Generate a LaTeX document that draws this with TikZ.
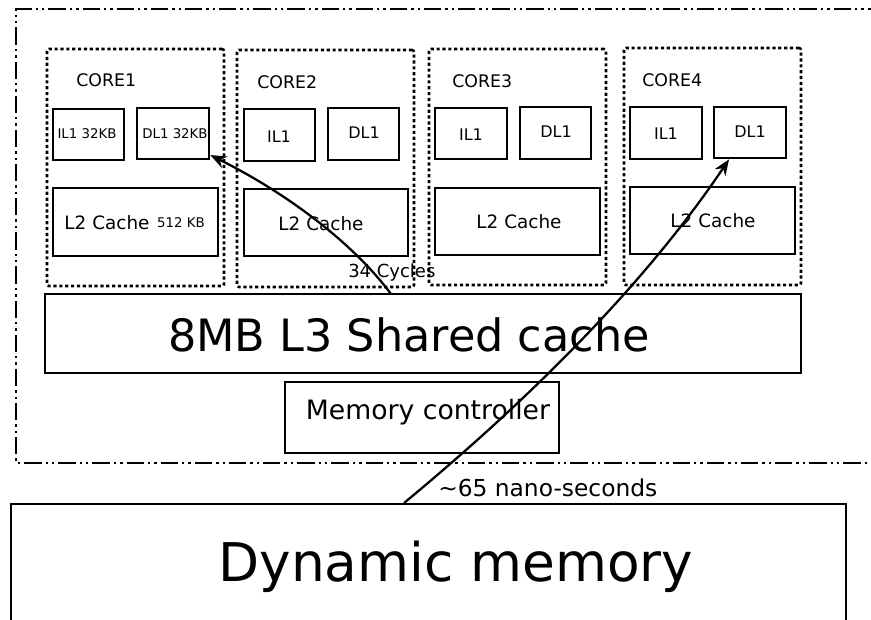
\documentclass[tikz,border=0pt]{standalone}
\usepackage{fontspec}
\setmainfont{DejaVu Sans}
\usetikzlibrary{fit,arrows.meta}
\begin{document}
\begin{tikzpicture}[x=0.75pt,y=-0.75pt,
  box/.style={draw,line width=2pt,inner sep=0pt},
  corebox/.style={draw,line width=1.9pt,dash pattern=on 2.4pt off 2pt,rounded corners=1.5pt,inner sep=0pt},
  chipline/.style={line width=1.7pt,dash pattern=on 13pt off 3pt on 1.8pt off 3pt on 1.8pt off 3pt},
  txt/.style={inner sep=0pt},
  fcore/.style={font=\fontsize{13}{15}\selectfont},
  fsmall/.style={font=\fontsize{10}{12}\selectfont},
  fl1/.style={font=\fontsize{12}{14}\selectfont},
  fl2/.style={font=\fontsize{13.8}{16}\selectfont},
  link/.style={line width=1.7pt,-{Stealth[length=12pt,width=9.5pt]}}]
\useasboundingbox (0,0) rectangle (871,619);

% chip outline, open on the right
\draw[chipline] (885,9) -- (16,9) -- (16,463) -- (885,463);

% core frames
\node[corebox,fit={(47,49) (224,286)}] (core1) {};
\node[corebox,fit={(237,50) (414,287)}] (core2) {};
\node[corebox,fit={(429,49) (606,285)}] (core3) {};
\node[corebox,fit={(624,48) (801,285)}] (core4) {};

\node[txt,fcore,anchor=west] (core1t) at (76,80) {CORE1};
\node[txt,fcore,anchor=west] (core2t) at (257,82) {CORE2};
\node[txt,fcore,anchor=west] (core3t) at (452,81) {CORE3};
\node[txt,fcore,anchor=west] (core4t) at (642,80) {CORE4};

% level 1 caches
\node[box,fit={(53,109) (124,160)}] (c1il) {};
\node[box,fit={(137,108) (209,159)}] (c1dl) {};
\node[box,fit={(244,109) (315,161)}] (c2il) {};
\node[box,fit={(328,108) (399,160)}] (c2dl) {};
\node[box,fit={(435,108) (507,159)}] (c3il) {};
\node[box,fit={(520,107) (591,159)}] (c3dl) {};
\node[box,fit={(630,107) (702,159)}] (c4il) {};
\node[box,fit={(714,107) (786,158)}] (c4dl) {};

\node[txt,fsmall] (c1ilt) at (87,134) {IL1 32KB};
\node[txt,fsmall] (c1dlt) at (175,134) {DL1 32KB};
\node[txt,fl1] (c2ilt) at (279,137) {IL1};
\node[txt,fl1] (c2dlt) at (364,133) {DL1};
\node[txt,fl1] (c3ilt) at (471,135) {IL1};
\node[txt,fl1] (c3dlt) at (556,132) {DL1};
\node[txt,fl1] (c4ilt) at (666,134) {IL1};
\node[txt,fl1] (c4dlt) at (750,132) {DL1};

% level 2 caches
\node[box,fit={(53,188) (218,256)}] (c1l2) {};
\node[box,fit={(244,189) (408,256)}] (c2l2) {};
\node[box,fit={(435,188) (600,255)}] (c3l2) {};
\node[box,fit={(630,187) (795,254)}] (c4l2) {};

\node[txt,fl2] (c1l2t) at (107,223) {L2 Cache};
\node[txt,fsmall] (c1l2s) at (181,223) {512 KB};
\node[txt,fl2] (c2l2t) at (321,224) {L2 Cache};
\node[txt,fl2] (c3l2t) at (519,222) {L2 Cache};
\node[txt,fl2] (c4l2t) at (713,221) {L2 Cache};

% shared cache, controller, memory
\node[box,fit={(45,294) (801,373)}] (l3) {};
\node[txt,font=\fontsize{33.4}{40}\selectfont] (l3t) at (409,335) {8MB L3 Shared cache};
\node[box,fit={(285,382) (559,453)}] (mc) {};
\node[txt,font=\fontsize{20}{24}\selectfont] (mct) at (428,412) {Memory controller};
\node[box,fit={(11,504) (846,632)}] (dram) {};
\node[txt,font=\fontsize{40}{48}\selectfont] (dramt) at (456,567) {Dynamic memory};

% access paths
\coordinate (a1) at (391,294);
\coordinate (a2) at (404,503);
\draw[link] (a1) .. controls (360,252) and (300,200) .. (c1dl.-30);
\draw[link] (a2) .. controls (543,388) and (652,274) .. (c4dl.-128);

\node[txt,font=\fontsize{13.5}{16}\selectfont,anchor=west] (cyc) at (348,273) {34 Cycles};
\node[txt,font=\fontsize{17.5}{21}\selectfont,anchor=west] (ns) at (438,488) {∼65 nano-seconds};
\end{tikzpicture}
\end{document}
